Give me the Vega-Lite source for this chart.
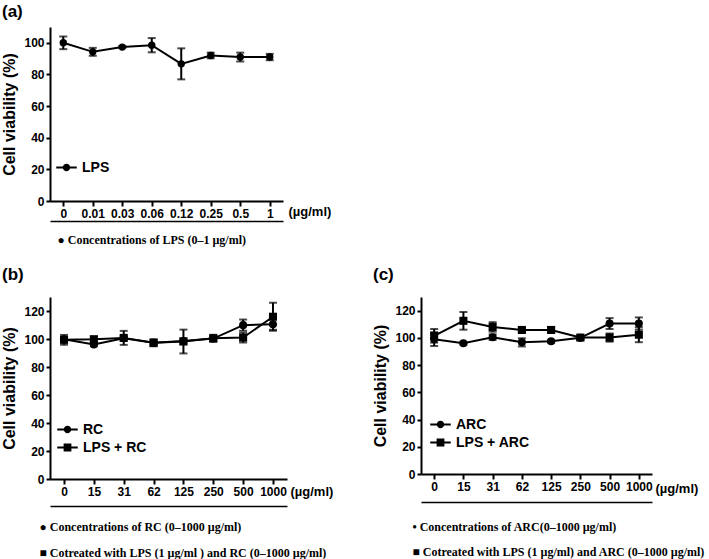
{
  "$schema": "https://vega.github.io/schema/vega-lite/v6.json",
  "padding": {"left": 1, "top": 3, "right": 0, "bottom": 0},
  "background": "white",
  "datasets": {
    "a": [
      {"c": "0", "s": "LPS", "v": 100, "e": 4},
      {"c": "0.01", "s": "LPS", "v": 94.3, "e": 2.5},
      {"c": "0.03", "s": "LPS", "v": 97.3, "e": 0.6},
      {"c": "0.06", "s": "LPS", "v": 98.5, "e": 4.5},
      {"c": "0.12", "s": "LPS", "v": 86.7, "e": 9.8},
      {"c": "0.25", "s": "LPS", "v": 92, "e": 1.8},
      {"c": "0.5", "s": "LPS", "v": 91, "e": 2.8},
      {"c": "1", "s": "LPS", "v": 91, "e": 2}
    ],
    "b": [
      {"c": "0", "s": "RC", "v": 99.8, "e": 1.5},
      {"c": "15", "s": "RC", "v": 96.1, "e": 1.2},
      {"c": "31", "s": "RC", "v": 100.5, "e": 1.5},
      {"c": "62", "s": "RC", "v": 97.3, "e": 1.5},
      {"c": "125", "s": "RC", "v": 98.5, "e": 2},
      {"c": "250", "s": "RC", "v": 100.3, "e": 1.5},
      {"c": "500", "s": "RC", "v": 109.9, "e": 4},
      {"c": "1000", "s": "RC", "v": 110.6, "e": 4},
      {"c": "0", "s": "LPS + RC", "v": 99.4, "e": 3.5},
      {"c": "15", "s": "LPS + RC", "v": 99.8, "e": 2},
      {"c": "31", "s": "LPS + RC", "v": 100.8, "e": 5},
      {"c": "62", "s": "LPS + RC", "v": 97.3, "e": 2.5},
      {"c": "125", "s": "LPS + RC", "v": 98.2, "e": 8.5},
      {"c": "250", "s": "LPS + RC", "v": 100.5, "e": 2.5},
      {"c": "500", "s": "LPS + RC", "v": 101, "e": 3.5},
      {"c": "1000", "s": "LPS + RC", "v": 115.9, "e": 10}
    ],
    "c": [
      {"c": "0", "s": "ARC", "v": 99, "e": 5},
      {"c": "15", "s": "ARC", "v": 96, "e": 1},
      {"c": "31", "s": "ARC", "v": 100.5, "e": 2},
      {"c": "62", "s": "ARC", "v": 96.7, "e": 3},
      {"c": "125", "s": "ARC", "v": 97.5, "e": 1},
      {"c": "250", "s": "ARC", "v": 100, "e": 1.2},
      {"c": "500", "s": "ARC", "v": 110.5, "e": 4},
      {"c": "1000", "s": "ARC", "v": 110.5, "e": 4.5},
      {"c": "0", "s": "LPS + ARC", "v": 101.5, "e": 5},
      {"c": "15", "s": "LPS + ARC", "v": 112.5, "e": 6.5},
      {"c": "31", "s": "LPS + ARC", "v": 108, "e": 3.5},
      {"c": "62", "s": "LPS + ARC", "v": 105.8, "e": 1.5},
      {"c": "125", "s": "LPS + ARC", "v": 105.8, "e": 2},
      {"c": "250", "s": "LPS + ARC", "v": 100.2, "e": 1.5},
      {"c": "500", "s": "LPS + ARC", "v": 100.2, "e": 3},
      {"c": "1000", "s": "LPS + ARC", "v": 102.3, "e": 5.5}
    ]
  },
  "spacing": 20,
  "resolve": {"scale": {"shape": "independent"}, "legend": {"shape": "independent"}},
  "vconcat": [
    {
      "title": {"text": "(a)"},
      "width": 233,
      "height": 174,
      "data": {"name": "a"},
      "layer": [
        {
          "mark": {"type": "line", "color": "black", "strokeWidth": 2},
          "encoding": {
            "x": {"field": "c", "type": "ordinal", "sort": ["0", "0.01", "0.03", "0.06", "0.12", "0.25", "0.5", "1"], "scale": {"type": "point", "padding": 0.45},
              "axis": {"title": "(µg/ml)", "titleAngle": 0, "titleAlign": "left", "titleBaseline": "middle", "titleX": 238, "titleY": 10}},
            "y": {"field": "v", "type": "quantitative", "scale": {"domain": [0, 110], "nice": false}, "axis": {"values": [0, 20, 40, 60, 80, 100]}, "title": "Cell viability (%)"},
            "detail": {"field": "s"}
          }
        },
        {
          "mark": {"type": "errorbar", "color": "black", "thickness": 2, "ticks": {"size": 8, "thickness": 2, "color": "black"}},
          "encoding": {
            "x": {"field": "c", "type": "ordinal", "sort": ["0", "0.01", "0.03", "0.06", "0.12", "0.25", "0.5", "1"], "scale": {"type": "point", "padding": 0.45},
              "axis": {"orient": "bottom", "offset": 20, "labels": false, "ticks": false, "domainWidth": 1.5, "title": ["● Concentrations of LPS (0–1 µg/ml)"], "titleFont": "Liberation Serif", "titleFontSize": 12, "titleAngle": 0, "titleAlign": "left", "titleBaseline": "top", "titleX": 7, "titleY": 13.5}},
            "y": {"field": "v", "type": "quantitative", "axis": {"values": [0, 20, 40, 60, 80, 100]}, "title": "Cell viability (%)"},
            "yError": {"field": "e"}
          }
        },
        {
          "mark": {"type": "point", "filled": true, "opacity": 1, "color": "black", "size": 55},
          "encoding": {
            "x": {"field": "c", "type": "ordinal", "sort": ["0", "0.01", "0.03", "0.06", "0.12", "0.25", "0.5", "1"], "scale": {"type": "point", "padding": 0.45}, "axis": null},
            "y": {"field": "v", "type": "quantitative", "axis": {"values": [0, 20, 40, 60, 80, 100]}, "title": "Cell viability (%)"},
            "shape": {"field": "s", "type": "nominal", "scale": {"domain": ["LPS"], "range": ["circle"]}, "legend": null}
          }
        },
        {
          "transform": [{"filter": "datum.v < 0"}],
          "mark": {"type": "point", "filled": true, "opacity": 1, "color": "black"},
          "encoding": {
            "shape": {"field": "s", "type": "nominal", "scale": {"domain": ["LPS"], "range": ["M-1,-0.1L1,-0.1L1,0.1L-1,0.1ZM0.36,0A0.36,0.36,0,1,1,-0.36,0A0.36,0.36,0,1,1,0.36,0Z"]},
              "legend": {"title": null, "orient": "none", "legendX": 6, "legendY": 130, "symbolFillColor": "black"}}
          }
        }
      ],
      "resolve": {"scale": {"x": "independent", "shape": "independent"}, "axis": {"x": "independent"}, "legend": {"shape": "independent"}}
    },
    {
      "spacing": 39,
      "resolve": {"scale": {"shape": "independent"}, "legend": {"shape": "independent"}},
      "hconcat": [
        {
          "title": {"text": "(b)", "offset": 13},
          "width": 237,
          "height": 182,
          "data": {"name": "b"},
          "layer": [
            {
              "mark": {"type": "line", "color": "black", "strokeWidth": 2},
              "encoding": {
                "x": {"field": "c", "type": "ordinal", "sort": ["0", "15", "31", "62", "125", "250", "500", "1000"], "scale": {"type": "point", "padding": 0.47},
                  "axis": {"title": "(µg/ml)", "titleAngle": 0, "titleAlign": "left", "titleBaseline": "middle", "titleX": 240, "titleY": 12}},
                "y": {"field": "v", "type": "quantitative", "scale": {"domain": [0, 130], "nice": false}, "axis": {"values": [0, 20, 40, 60, 80, 100, 120]}, "title": "Cell viability (%)"},
                "detail": {"field": "s"}
              }
            },
            {
              "mark": {"type": "errorbar", "color": "black", "thickness": 2, "ticks": {"size": 8, "thickness": 2, "color": "black"}},
              "encoding": {
                "x": {"field": "c", "type": "ordinal", "sort": ["0", "15", "31", "62", "125", "250", "500", "1000"], "scale": {"type": "point", "padding": 0.47},
                  "axis": {"orient": "bottom", "offset": 27, "labels": false, "ticks": false, "domainWidth": 1.5, "title": ["● Concentrations of RC (0–1000 µg/ml)", "■ Cotreated with LPS (1 µg/ml ) and RC (0–1000 µg/ml)"], "titleFont": "Liberation Serif", "titleFontSize": 12, "titleLineHeight": 26, "titleAngle": 0, "titleAlign": "left", "titleBaseline": "top", "titleX": -11, "titleY": 15.5}},
                "y": {"field": "v", "type": "quantitative", "axis": {"values": [0, 20, 40, 60, 80, 100, 120]}, "title": "Cell viability (%)"},
                "yError": {"field": "e"}
              }
            },
            {
              "mark": {"type": "point", "filled": true, "opacity": 1, "color": "black", "size": 65},
              "encoding": {
                "x": {"field": "c", "type": "ordinal", "sort": ["0", "15", "31", "62", "125", "250", "500", "1000"], "scale": {"type": "point", "padding": 0.47}, "axis": null},
                "y": {"field": "v", "type": "quantitative", "axis": {"values": [0, 20, 40, 60, 80, 100, 120]}, "title": "Cell viability (%)"},
                "shape": {"field": "s", "type": "nominal", "scale": {"domain": ["RC", "LPS + RC"], "range": ["circle", "square"]}, "legend": null}
              }
            },
            {
              "transform": [{"filter": "datum.v < 0"}],
              "mark": {"type": "point", "filled": true, "opacity": 1, "color": "black"},
              "encoding": {
                "shape": {"field": "s", "type": "nominal", "scale": {"domain": ["RC", "LPS + RC"], "range": ["M-1,-0.1L1,-0.1L1,0.1L-1,0.1ZM0.36,0A0.36,0.36,0,1,1,-0.36,0A0.36,0.36,0,1,1,0.36,0Z", "M-1,-0.1L1,-0.1L1,0.1L-1,0.1ZM-0.38,-0.38L0.38,-0.38L0.38,0.38L-0.38,0.38Z"]},
                  "legend": {"title": null, "orient": "none", "legendX": 7, "legendY": 122, "symbolFillColor": "black"}}
              }
            }
          ],
          "resolve": {"scale": {"x": "independent", "shape": "independent"}, "axis": {"x": "independent"}, "legend": {"shape": "independent"}}
        },
        {
          "title": {"text": "(c)", "offset": 13},
          "width": 231,
          "height": 177,
          "data": {"name": "c"},
          "layer": [
            {
              "mark": {"type": "line", "color": "black", "strokeWidth": 2},
              "encoding": {
                "x": {"field": "c", "type": "ordinal", "sort": ["0", "15", "31", "62", "125", "250", "500", "1000"], "scale": {"type": "point", "padding": 0.45},
                  "axis": {"title": "(µg/ml)", "titleAngle": 0, "titleAlign": "left", "titleBaseline": "middle", "titleX": 234, "titleY": 14}},
                "y": {"field": "v", "type": "quantitative", "scale": {"domain": [0, 130], "nice": false}, "axis": {"values": [0, 20, 40, 60, 80, 100, 120]}, "title": "Cell viability (%)"},
                "detail": {"field": "s"}
              }
            },
            {
              "mark": {"type": "errorbar", "color": "black", "thickness": 2, "ticks": {"size": 8, "thickness": 2, "color": "black"}},
              "encoding": {
                "x": {"field": "c", "type": "ordinal", "sort": ["0", "15", "31", "62", "125", "250", "500", "1000"], "scale": {"type": "point", "padding": 0.45},
                  "axis": {"orient": "bottom", "offset": 28, "labels": false, "ticks": false, "domainWidth": 1.5, "title": ["• Concentrations of ARC(0–1000 µg/ml)", "■ Cotreated with LPS (1 µg/ml) and ARC (0–1000 µg/ml)"], "titleFont": "Liberation Serif", "titleFontSize": 12, "titleLineHeight": 25, "titleAngle": 0, "titleAlign": "left", "titleBaseline": "top", "titleX": -9, "titleY": 19}},
                "y": {"field": "v", "type": "quantitative", "axis": {"values": [0, 20, 40, 60, 80, 100, 120]}, "title": "Cell viability (%)"},
                "yError": {"field": "e"}
              }
            },
            {
              "mark": {"type": "point", "filled": true, "opacity": 1, "color": "black", "size": 65},
              "encoding": {
                "x": {"field": "c", "type": "ordinal", "sort": ["0", "15", "31", "62", "125", "250", "500", "1000"], "scale": {"type": "point", "padding": 0.45}, "axis": null},
                "y": {"field": "v", "type": "quantitative", "axis": {"values": [0, 20, 40, 60, 80, 100, 120]}, "title": "Cell viability (%)"},
                "shape": {"field": "s", "type": "nominal", "scale": {"domain": ["ARC", "LPS + ARC"], "range": ["circle", "square"]}, "legend": null}
              }
            },
            {
              "transform": [{"filter": "datum.v < 0"}],
              "mark": {"type": "point", "filled": true, "opacity": 1, "color": "black"},
              "encoding": {
                "shape": {"field": "s", "type": "nominal", "scale": {"domain": ["ARC", "LPS + ARC"], "range": ["M-1,-0.1L1,-0.1L1,0.1L-1,0.1ZM0.36,0A0.36,0.36,0,1,1,-0.36,0A0.36,0.36,0,1,1,0.36,0Z", "M-1,-0.1L1,-0.1L1,0.1L-1,0.1ZM-0.38,-0.38L0.38,-0.38L0.38,0.38L-0.38,0.38Z"]},
                  "legend": {"title": null, "orient": "none", "legendX": 9, "legendY": 117, "symbolFillColor": "black"}}
              }
            }
          ],
          "resolve": {"scale": {"x": "independent", "shape": "independent"}, "axis": {"x": "independent"}, "legend": {"shape": "independent"}}
        }
      ]
    }
  ],
  "config": {
    "view": {"stroke": null},
    "font": "Liberation Sans",
    "axis": {"grid": false, "domainColor": "black", "domainWidth": 2, "tickColor": "black", "tickWidth": 2, "labelColor": "black", "labelFont": "Liberation Sans", "labelFontWeight": "bold", "labelFontSize": 12, "titleColor": "black", "titleFont": "Liberation Sans", "titleFontWeight": "bold"},
    "axisY": {"tickSize": 4, "labelPadding": 2, "titleFontSize": 16, "titlePadding": 6, "labelOverlap": false},
    "axisX": {"tickSize": 5, "labelPadding": 2, "labelAngle": 0, "titleFontSize": 13},
    "title": {"anchor": "start", "frame": "bounds", "fontSize": 17, "fontWeight": "bold", "font": "Liberation Sans", "color": "black", "offset": 6},
    "legend": {"symbolSize": 420, "symbolStrokeWidth": 0, "labelFont": "Liberation Sans", "labelFontSize": 14, "labelFontWeight": "bold", "labelColor": "black", "rowPadding": 0, "labelOffset": 5, "padding": 0}
  }
}
